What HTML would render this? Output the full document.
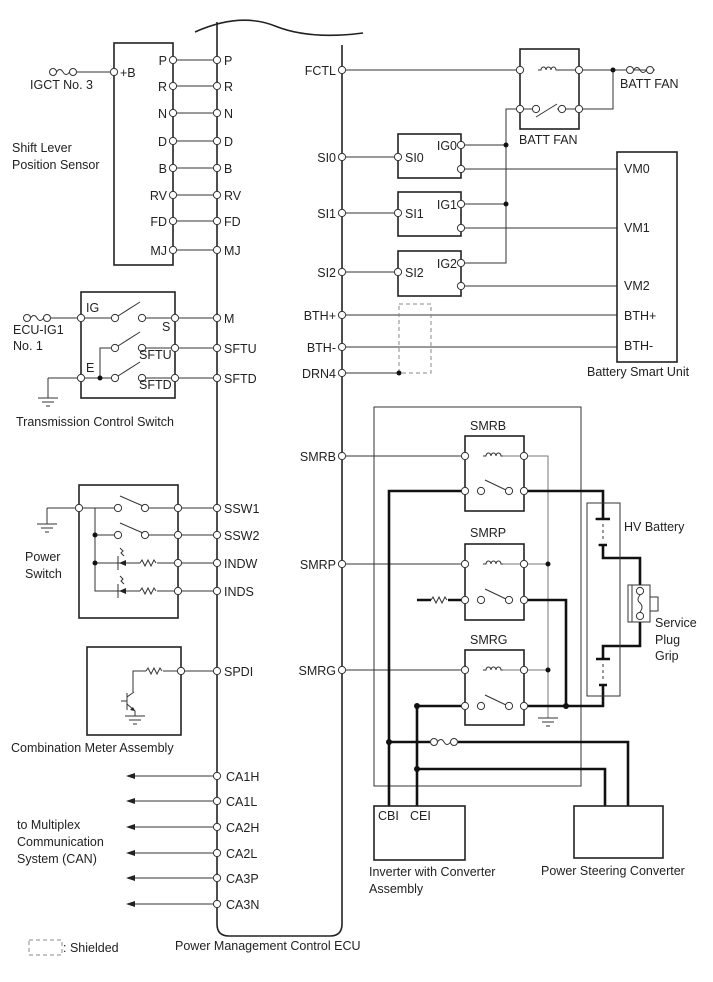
<!DOCTYPE html>
<html><head><meta charset="utf-8"><style>
html,body{margin:0;padding:0;background:#fff}
svg{display:block}
text{font-family:"Liberation Sans",Arial,sans-serif;font-size:12.5px;fill:#222}
.t{stroke:#333;stroke-width:1;fill:none}
.g{stroke:#777;stroke-width:1;fill:none}
.b{stroke:#111;stroke-width:2.6;fill:none}
.k{stroke:#222;stroke-width:1.6;fill:none}
.o{fill:#fff;stroke:#333;stroke-width:1}
.d{fill:#111}
</style></head><body>
<svg width="713" height="982" viewBox="0 0 713 982" xmlns="http://www.w3.org/2000/svg">
<defs>
<g id="c"><circle r="3.6" class="o"/></g>
<g id="coil"><path class="t" d="M-10,0 h3 a2.5,3 0 1 1 5,0 a2.5,3 0 1 1 5,0 a2.5,3 0 1 1 5,0 h5"/></g>
<g id="fuse"><circle cx="-10" r="3.5" class="o"/><path class="t" d="M-6.5,0 q3.5,-5 6.5,0 q3,5 6.5,0"/><circle cx="10" r="3.5" class="o"/></g>
<g id="res"><path class="t" d="M0,0 l2,-3 l3,6 l3,-6 l3,6 l3,-6 l2,3"/></g>
<g id="gnd"><path class="t" d="M-10,0 h20 M-6,4 h12 M-2,8 h4"/></g>
<g id="arr"><path d="M0,0 l9,-3 v6 z" fill="#222"/></g>
</defs>

<!-- ECU outline -->
<path class="k" d="M195,32 Q240,12 275,26 T363,33"/>
<path class="k" d="M217,22 V924 q0,12 12,12 H330 q12,0 12,-12 V45"/>
<text x="175" y="950">Power Management Control ECU</text>

<!-- Shift lever sensor -->
<rect x="114" y="43" width="59" height="222" class="k"/>
<g>
<line x1="173" y1="60" x2="217" y2="60" class="t"/><line x1="173" y1="86" x2="217" y2="86" class="t"/>
<line x1="173" y1="113" x2="217" y2="113" class="t"/><line x1="173" y1="141" x2="217" y2="141" class="t"/>
<line x1="173" y1="168" x2="217" y2="168" class="t"/><line x1="173" y1="195" x2="217" y2="195" class="t"/>
<line x1="173" y1="221" x2="217" y2="221" class="t"/><line x1="173" y1="250" x2="217" y2="250" class="t"/>
</g>
<g>
<use href="#c" x="173" y="60"/><use href="#c" x="217" y="60"/><use href="#c" x="173" y="86"/><use href="#c" x="217" y="86"/>
<use href="#c" x="173" y="113"/><use href="#c" x="217" y="113"/><use href="#c" x="173" y="141"/><use href="#c" x="217" y="141"/>
<use href="#c" x="173" y="168"/><use href="#c" x="217" y="168"/><use href="#c" x="173" y="195"/><use href="#c" x="217" y="195"/>
<use href="#c" x="173" y="221"/><use href="#c" x="217" y="221"/><use href="#c" x="173" y="250"/><use href="#c" x="217" y="250"/>
</g>
<g text-anchor="end">
<text x="167" y="65">P</text><text x="167" y="91">R</text><text x="167" y="118">N</text><text x="167" y="146">D</text>
<text x="167" y="173">B</text><text x="167" y="200">RV</text><text x="167" y="226">FD</text><text x="167" y="255">MJ</text>
</g>
<g>
<text x="224" y="65">P</text><text x="224" y="91">R</text><text x="224" y="118">N</text><text x="224" y="146">D</text>
<text x="224" y="173">B</text><text x="224" y="200">RV</text><text x="224" y="226">FD</text><text x="224" y="255">MJ</text>
</g>
<use href="#fuse" x="63" y="72"/><line x1="77" y1="72" x2="110" y2="72" class="t"/><use href="#c" x="114" y="72"/>
<text x="120" y="77">+B</text>
<text x="30" y="89">IGCT No. 3</text>
<text x="12" y="152">Shift Lever</text><text x="12" y="169">Position Sensor</text>

<!-- Transmission control switch -->
<rect x="81" y="292" width="94" height="106" class="k"/>
<use href="#fuse" x="37" y="318"/><line x1="51" y1="318" x2="111" y2="318" class="t"/>
<use href="#c" x="81" y="318"/><use href="#c" x="115" y="318"/><use href="#c" x="142" y="318"/>
<line x1="118" y1="316" x2="140" y2="302" class="t"/>
<line x1="146" y1="318" x2="217" y2="318" class="t"/>
<line x1="146" y1="348" x2="217" y2="348" class="t"/>
<line x1="146" y1="378" x2="217" y2="378" class="t"/>
<path class="t" d="M100,378 V348 H111 M48,378 H111 M48,378 V398"/>
<use href="#gnd" x="48" y="398"/>
<circle cx="100" cy="378" r="2.5" class="d"/>
<use href="#c" x="115" y="348"/><use href="#c" x="142" y="348"/><line x1="118" y1="346" x2="140" y2="332" class="t"/>
<use href="#c" x="115" y="378"/><use href="#c" x="142" y="378"/><line x1="118" y1="376" x2="140" y2="362" class="t"/>
<use href="#c" x="81" y="378"/>
<use href="#c" x="175" y="318"/><use href="#c" x="175" y="348"/><use href="#c" x="175" y="378"/>
<use href="#c" x="217" y="318"/><use href="#c" x="217" y="348"/><use href="#c" x="217" y="378"/>
<text x="86" y="312">IG</text><text x="162" y="331">S</text><text x="139" y="359">SFTU</text><text x="139" y="389">SFTD</text><text x="86" y="372">E</text>
<text x="224" y="323">M</text><text x="224" y="353">SFTU</text><text x="224" y="383">SFTD</text>
<text x="13" y="334">ECU-IG1</text><text x="13" y="350">No. 1</text>
<text x="16" y="426">Transmission Control Switch</text>

<!-- Power switch -->
<rect x="79" y="485" width="99" height="133" class="k"/>
<path class="t" d="M47,508 H114 M47,508 V524 M95,508 V591 H112 M95,535 H114 M95,563 H112"/>
<use href="#gnd" x="47" y="524"/>
<circle cx="95" cy="535" r="2.5" class="d"/><circle cx="95" cy="563" r="2.5" class="d"/>
<use href="#c" x="79" y="508"/>
<use href="#c" x="118" y="508"/><use href="#c" x="145" y="508"/><line x1="120" y1="496" x2="143" y2="506" class="t"/>
<use href="#c" x="118" y="535"/><use href="#c" x="145" y="535"/><line x1="120" y1="523" x2="143" y2="533" class="t"/>
<line x1="149" y1="508" x2="217" y2="508" class="t"/><line x1="149" y1="535" x2="217" y2="535" class="t"/>
<path class="t" d="M112,563 H140 M157,563 H217 M112,591 H140 M157,591 H217 M118,556 V570 M118,584 V598"/>
<path d="M119,563 l7,-3 v6z M119,591 l7,-3 v6z" fill="#222"/>
<path class="t" d="M120,548 l3,3 l-2,2 l3,3 M120,576 l3,3 l-2,2 l3,3"/>
<use href="#res" x="140" y="563"/><use href="#res" x="140" y="591"/>
<use href="#c" x="178" y="508"/><use href="#c" x="178" y="535"/><use href="#c" x="178" y="563"/><use href="#c" x="178" y="591"/>
<use href="#c" x="217" y="508"/><use href="#c" x="217" y="535"/><use href="#c" x="217" y="563"/><use href="#c" x="217" y="591"/>
<text x="224" y="513">SSW1</text><text x="224" y="540">SSW2</text><text x="224" y="568">INDW</text><text x="224" y="596">INDS</text>
<text x="25" y="561">Power</text><text x="25" y="578">Switch</text>

<!-- Combination meter -->
<rect x="87" y="647" width="94" height="88" class="k"/>
<path class="t" d="M133,692 V671 H146 M163,671 H217 M127,693 V710 M127,701 H121 M127,697 L134,692 M127,704 L135,711 V716"/>
<path d="M135,711 l-5,-1 l3,-3z" fill="#222"/>
<use href="#res" x="146" y="671"/>
<use href="#gnd" x="135" y="716"/>
<use href="#c" x="181" y="671"/><use href="#c" x="217" y="671"/>
<text x="224" y="676">SPDI</text>
<text x="11" y="752">Combination Meter Assembly</text>

<!-- CAN -->
<g class="t">
<line x1="132" y1="776" x2="217" y2="776"/><line x1="132" y1="801" x2="217" y2="801"/><line x1="132" y1="827" x2="217" y2="827"/>
<line x1="132" y1="853" x2="217" y2="853"/><line x1="132" y1="878" x2="217" y2="878"/><line x1="132" y1="904" x2="217" y2="904"/>
</g>
<use href="#arr" x="126" y="776"/><use href="#arr" x="126" y="801"/><use href="#arr" x="126" y="827"/>
<use href="#arr" x="126" y="853"/><use href="#arr" x="126" y="878"/><use href="#arr" x="126" y="904"/>
<use href="#c" x="217" y="776"/><use href="#c" x="217" y="801"/><use href="#c" x="217" y="827"/>
<use href="#c" x="217" y="853"/><use href="#c" x="217" y="878"/><use href="#c" x="217" y="904"/>
<text x="226" y="781">CA1H</text><text x="226" y="806">CA1L</text><text x="226" y="832">CA2H</text>
<text x="226" y="858">CA2L</text><text x="226" y="883">CA3P</text><text x="226" y="909">CA3N</text>
<text x="17" y="829">to Multiplex</text><text x="17" y="846">Communication</text><text x="17" y="863">System (CAN)</text>
<rect x="29" y="940" width="33" height="15" fill="none" stroke="#888" stroke-dasharray="4,3"/>
<text x="63" y="952">: Shielded</text>

<!-- Right side ECU pins -->
<g text-anchor="end">
<text x="336" y="75">FCTL</text><text x="336" y="162">SI0</text><text x="336" y="218">SI1</text><text x="336" y="277">SI2</text>
<text x="336" y="320">BTH+</text><text x="336" y="352">BTH-</text><text x="336" y="378">DRN4</text>
<text x="336" y="461">SMRB</text><text x="336" y="569">SMRP</text><text x="336" y="675">SMRG</text>
</g>
<g class="t">
<line x1="342" y1="70" x2="520" y2="70"/>
<line x1="342" y1="157" x2="398" y2="157"/><line x1="342" y1="213" x2="398" y2="213"/><line x1="342" y1="272" x2="398" y2="272"/>
<line x1="342" y1="315" x2="617" y2="315"/><line x1="342" y1="347" x2="617" y2="347"/><line x1="342" y1="373" x2="399" y2="373"/>
<line x1="342" y1="456" x2="465" y2="456"/><line x1="342" y1="564" x2="465" y2="564"/><line x1="342" y1="670" x2="465" y2="670"/>
</g>

<!-- BATT FAN relay -->
<rect x="520" y="49" width="59" height="80" class="k"/>
<use href="#coil" x="548" y="70"/>
<path class="t" d="M558,70 H579"/>
<path class="t" d="M579,70 H655 M613,70 V109 H579 M520,109 H506 V263 H461 M520,109 H532 M557,109 H579"/>
<line x1="536" y1="117" x2="557" y2="104" class="t"/>
<use href="#c" x="536" y="109"/><use href="#c" x="562" y="109"/>
<use href="#c" x="520" y="70"/><use href="#c" x="579" y="70"/><use href="#c" x="520" y="109"/><use href="#c" x="579" y="109"/>
<circle cx="613" cy="70" r="2.5" class="d"/>
<use href="#fuse" x="640" y="70"/>
<text x="620" y="88">BATT FAN</text>
<text x="519" y="144">BATT FAN</text>

<!-- SI modules -->
<rect x="398" y="134" width="63" height="44" class="k"/>
<rect x="398" y="192" width="63" height="44" class="k"/>
<rect x="398" y="251" width="63" height="45" class="k"/>
<path class="t" d="M461,145 H506 M461,204 H506 M461,169 H617 M461,228 H617 M461,286 H617"/>
<circle cx="506" cy="145" r="2.5" class="d"/><circle cx="506" cy="204" r="2.5" class="d"/>
<use href="#c" x="398" y="157"/><use href="#c" x="398" y="213"/><use href="#c" x="398" y="272"/>
<use href="#c" x="461" y="145"/><use href="#c" x="461" y="169"/><use href="#c" x="461" y="204"/><use href="#c" x="461" y="228"/>
<use href="#c" x="461" y="263"/><use href="#c" x="461" y="286"/>
<text x="405" y="162">SI0</text><text x="405" y="218">SI1</text><text x="405" y="277">SI2</text>
<g text-anchor="end"><text x="457" y="150">IG0</text><text x="457" y="209">IG1</text><text x="457" y="268">IG2</text></g>
<rect x="399" y="304" width="32" height="69" fill="none" stroke="#888" stroke-dasharray="4,3"/>
<circle cx="399" cy="373" r="2.5" class="d"/>
<rect x="617" y="152" width="60" height="210" class="k"/>
<text x="624" y="173">VM0</text><text x="624" y="232">VM1</text><text x="624" y="290">VM2</text>
<text x="624" y="320">BTH+</text><text x="624" y="350">BTH-</text>
<text x="587" y="376">Battery Smart Unit</text>

<!-- SMR box -->
<rect x="374" y="407" width="207" height="379" class="t" stroke-width="1.4"/>
<text x="470" y="430">SMRB</text><text x="470" y="537">SMRP</text><text x="470" y="644">SMRG</text>
<rect x="465" y="436" width="59" height="75" class="k"/>
<rect x="465" y="544" width="59" height="76" class="k"/>
<rect x="465" y="650" width="59" height="75" class="k"/>
<use href="#coil" x="493" y="456"/><use href="#coil" x="493" y="564"/><use href="#coil" x="493" y="670"/>
<path class="g" d="M503,456 H548 V718 M503,564 H548 M503,670 H548"/>
<use href="#gnd" x="548" y="718"/>
<circle cx="548" cy="564" r="2.5" class="d"/><circle cx="548" cy="670" r="2.5" class="d"/>
<!-- thick wiring -->
<path class="b" d="M465,491 H389 V806 M524,491 H603 V518"/>
<path class="b" d="M603,546 V558 H640 V585 M640,622 V646 H603 V658"/>
<path class="b" d="M603,686 V706 H524 M566,706 V600 H524 M465,706 H417 V806 M417,600 H431 M448,600 H465"/>
<path class="b" d="M389,742 H430 M458,742 H628 V806 M417,769 H605 V806"/>
<use href="#res" x="431" y="600"/>
<use href="#fuse" x="444" y="742"/>
<circle cx="566" cy="706" r="3" class="d"/><circle cx="417" cy="706" r="3" class="d"/>
<circle cx="389" cy="742" r="3" class="d"/><circle cx="417" cy="769" r="3" class="d"/>
<!-- switches -->
<g class="t">
<line x1="485" y1="480" x2="506" y2="490"/><line x1="485" y1="589" x2="506" y2="599"/><line x1="485" y1="695" x2="506" y2="705"/>
</g>
<g>
<use href="#c" x="465" y="456"/><use href="#c" x="524" y="456"/><use href="#c" x="465" y="491"/><use href="#c" x="481" y="491"/><use href="#c" x="509" y="491"/><use href="#c" x="524" y="491"/>
<use href="#c" x="465" y="564"/><use href="#c" x="524" y="564"/><use href="#c" x="465" y="600"/><use href="#c" x="481" y="600"/><use href="#c" x="509" y="600"/><use href="#c" x="524" y="600"/>
<use href="#c" x="465" y="670"/><use href="#c" x="524" y="670"/><use href="#c" x="465" y="706"/><use href="#c" x="481" y="706"/><use href="#c" x="509" y="706"/><use href="#c" x="524" y="706"/>
</g>
<!-- HV battery -->
<rect x="587" y="503" width="33" height="193" class="t" stroke-width="1.4"/>
<path class="t" d="M595,519 H611 M598,545 H608 M603,524 V541" stroke-dasharray="3,3"/>
<path class="b" d="M596,519 H610 M599,545 H607" stroke-width="1.6"/>
<path class="b" d="M596,659 H610 M599,685 H607" stroke-width="1.6"/>
<path class="t" d="M603,664 V681" stroke-dasharray="3,3"/>
<text x="624" y="531">HV Battery</text>
<rect x="628" y="585" width="22" height="37" class="t"/>
<rect x="650" y="597" width="8" height="14" class="t"/>
<line x1="632" y1="585" x2="632" y2="622" class="t"/>
<use href="#c" x="640" y="591"/><use href="#c" x="640" y="616"/>
<path class="t" d="M640,595 q-4,5 0,8 q4,4 0,9"/>
<text x="655" y="627">Service</text><text x="655" y="644">Plug</text><text x="655" y="660">Grip</text>

<!-- bottom devices -->
<rect x="374" y="806" width="91" height="54" class="k"/>
<text x="378" y="820">CBI</text><text x="410" y="820">CEI</text>
<text x="369" y="876">Inverter with Converter</text><text x="369" y="893">Assembly</text>
<rect x="574" y="806" width="89" height="52" class="k"/>
<text x="541" y="875">Power Steering Converter</text>

<!-- ECU right pin circles -->
<g>
<use href="#c" x="342" y="70"/><use href="#c" x="342" y="157"/><use href="#c" x="342" y="213"/><use href="#c" x="342" y="272"/>
<use href="#c" x="342" y="315"/><use href="#c" x="342" y="347"/><use href="#c" x="342" y="373"/>
<use href="#c" x="342" y="456"/><use href="#c" x="342" y="564"/><use href="#c" x="342" y="670"/>
</g>
</svg>
</body></html>
